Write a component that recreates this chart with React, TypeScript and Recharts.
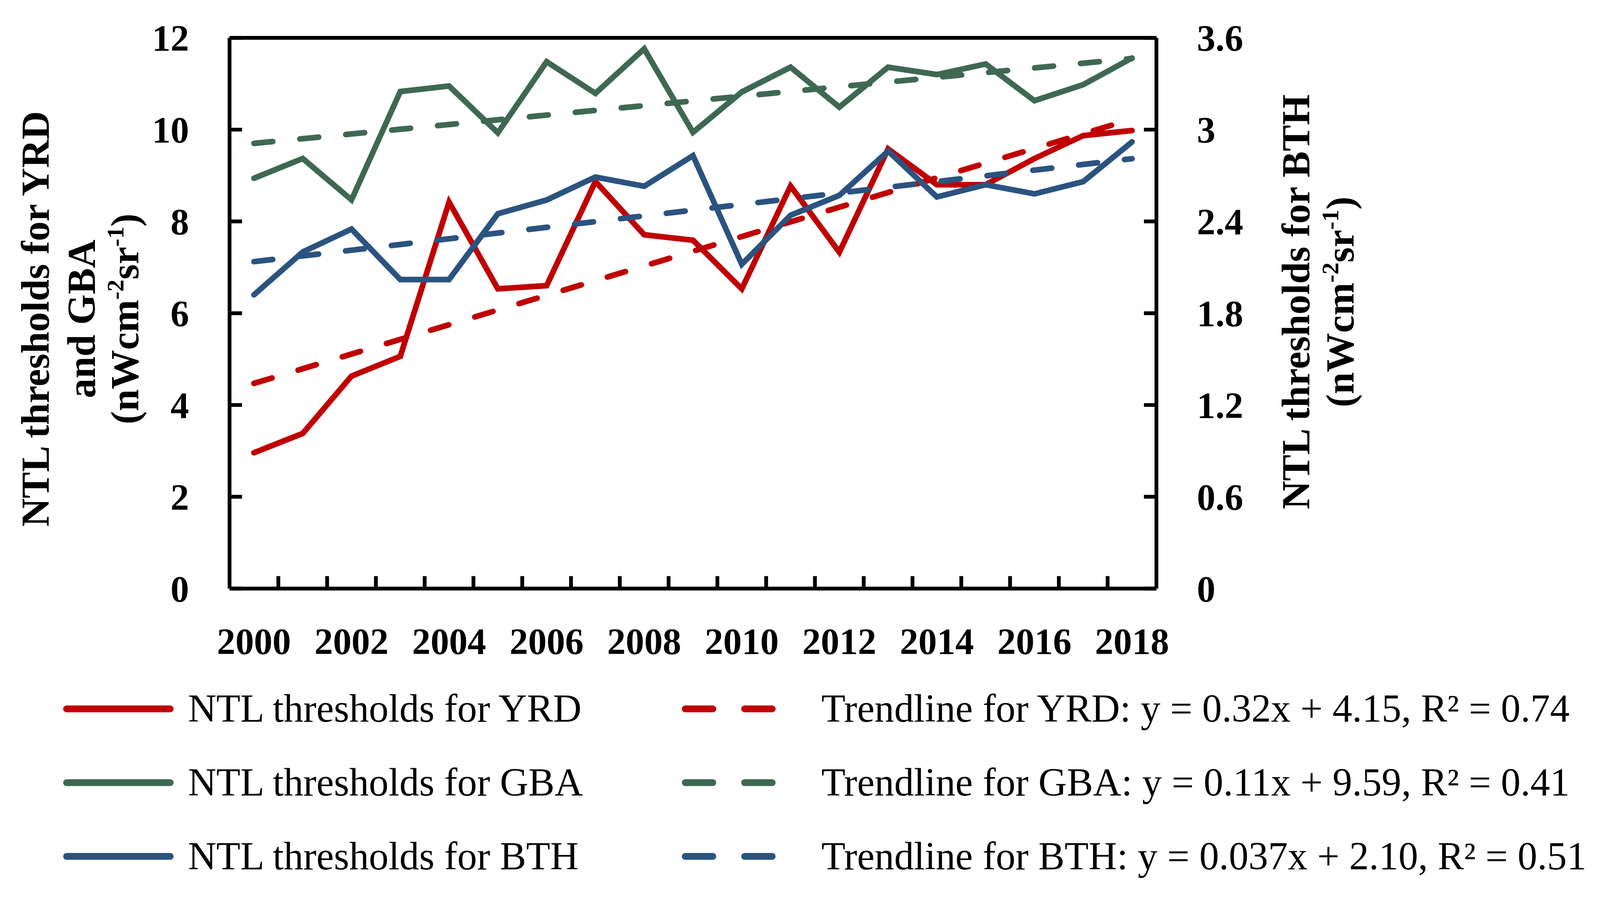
import React from "react";
import { LineChart, Line, XAxis, YAxis, Label } from "recharts";

const years = [
  "2000", "2001", "2002", "2003", "2004", "2005", "2006", "2007", "2008", "2009",
  "2010", "2011", "2012", "2013", "2014", "2015", "2016", "2017", "2018",
];

// NTL thresholds
const yrd = [2.96, 3.38, 4.63, 5.06, 8.42, 6.53, 6.6, 8.87, 7.71, 7.59, 6.53, 8.77, 7.33, 9.58, 8.8, 8.8, 9.37, 9.87, 9.98];
const gba = [8.94, 9.37, 8.47, 10.83, 10.95, 9.93, 11.48, 10.79, 11.76, 9.94, 10.82, 11.36, 10.49, 11.36, 11.2, 11.43, 10.63, 10.98, 11.56];
const bth = [1.92, 2.2, 2.35, 2.02, 2.02, 2.45, 2.54, 2.69, 2.63, 2.83, 2.12, 2.44, 2.57, 2.86, 2.56, 2.64, 2.58, 2.66, 2.92];

// trendline end points (first and last year)
const yrdTrend = [4.47, 10.23];
const gbaTrend = [9.7, 11.55];
const bthTrend = [2.137, 2.81];

const leftTicks = [0, 2, 4, 6, 8, 10, 12];
const rightTicks = [0, 0.6, 1.2, 1.8, 2.4, 3, 3.6];
const yearLabelIdx = [0, 2, 4, 6, 8, 10, 12, 14, 16, 18];

const RED = "#C00000";
const GREEN = "#3F6853";
const BLUE = "#2B5380";
const FONT = "'Liberation Serif', 'Times New Roman', serif";

const W = 4231;
const H = 2352;

const last = years.length - 1;
const data = years.map((year, i) => ({
  idx: i,
  year,
  yrd: yrd[i],
  gba: gba[i],
  bth: bth[i],
  yrdT: i === 0 ? yrdTrend[0] : i === last ? yrdTrend[1] : null,
  gbaT: i === 0 ? gbaTrend[0] : i === last ? gbaTrend[1] : null,
  bthT: i === 0 ? bthTrend[0] : i === last ? bthTrend[1] : null,
}));

// tick marks sit between the years, labels on every second year
const boundaryTicks = years.slice(1).map((_, i) => i + 0.5);
const xTicks = [...yearLabelIdx, ...boundaryTicks].sort((a, b) => a - b);

const legendRows = [
  { name: "NTL thresholds for YRD", trend: "Trendline for YRD: y = 0.32x + 4.15, R\u00b2 = 0.74", color: RED },
  { name: "NTL thresholds for GBA", trend: "Trendline for GBA: y = 0.11x + 9.59, R\u00b2 = 0.41", color: GREEN },
  { name: "NTL thresholds for BTH", trend: "Trendline for BTH: y = 0.037x + 2.10, R\u00b2 = 0.51", color: BLUE },
];

const TITLE_SIZE = 104;

function Unit() {
  const sup = Math.round(TITLE_SIZE * 0.62);
  const shift = Math.round(TITLE_SIZE * 0.38);
  return (
    <>
      (nWcm
      <tspan dy={-shift} fontSize={sup}>-2</tspan>
      <tspan dy={shift}>sr</tspan>
      <tspan dy={-shift} fontSize={sup}>-1</tspan>
      <tspan dy={shift}>)</tspan>
    </>
  );
}

function RotatedLines({ lines }: { lines: { x: number; y: number; content: React.ReactNode }[] }) {
  return (
    <g>
      {lines.map((l, i) => (
        <text
          key={i}
          x={l.x}
          y={l.y}
          transform={`rotate(-90 ${l.x} ${l.y})`}
          textAnchor="middle"
          fontFamily={FONT}
          fontWeight="bold"
          fontSize={TITLE_SIZE}
          fill="#000"
        >
          {l.content}
        </text>
      ))}
    </g>
  );
}

const leftTitle = () => (
  <RotatedLines
    lines={[
      { x: 129, y: 843, content: "NTL thresholds for YRD" },
      { x: 251, y: 843, content: "and GBA" },
      { x: 366, y: 843, content: <Unit /> },
    ]}
  />
);

const rightTitle = () => (
  <RotatedLines
    lines={[
      { x: 3463, y: 798, content: "NTL thresholds for BTH" },
      { x: 3579, y: 798, content: <Unit /> },
    ]}
  />
);

const tickStyle = { fill: "#000", fontSize: 98, fontWeight: "bold", fontFamily: FONT };
const axisStroke = { stroke: "#000", strokeWidth: 10 };

function YearTick(props: any) {
  const { x, y, payload } = props;
  const v = payload.value;
  if (Number.isInteger(v)) {
    return (
      <text x={x} y={y + 104} dy="0.71em" textAnchor="middle" {...tickStyle}>
        {years[v]}
      </text>
    );
  }
  return <line x1={x} x2={x} y1={y} y2={y - 33} stroke="#000" strokeWidth={10} />;
}

function ChartLegend() {
  const rowY = [1874, 2069, 2264];
  return (
    <svg width={W} height={H} style={{ position: "absolute", left: 0, top: 0, pointerEvents: "none" }}>
      {legendRows.map((r, i) => (
        <g key={r.name}>
          <line x1={176} x2={450} y1={rowY[i]} y2={rowY[i]} stroke={r.color} strokeWidth={18} strokeLinecap="round" />
          <text x={497} y={rowY[i] + 34} fontFamily={FONT} fontSize={104} fill="#000">
            {r.name}
          </text>
          <line
            x1={1812}
            x2={2042}
            y1={rowY[i]}
            y2={rowY[i]}
            stroke={r.color}
            strokeWidth={18}
            strokeLinecap="round"
            strokeDasharray="73 84"
          />
          <text x={2172} y={rowY[i] + 34} fontFamily={FONT} fontSize={104} fill="#000">
            {r.trend}
          </text>
        </g>
      ))}
    </svg>
  );
}

// fit the fixed-size drawing into whatever CSS viewport the page really has
function viewportScale() {
  if (typeof window === "undefined") return 1;
  const s = Math.min(window.innerWidth / W, window.innerHeight / H);
  return s > 0 && s < 1 ? s : 1;
}

export default function App() {
  const s = viewportScale();
  return (
    <div style={{ position: "absolute", left: 0, top: 0, width: W * s, height: H * s, overflow: "hidden", background: "#fff" }}>
      <div style={{ position: "relative", width: W, height: H, transform: `scale(${s})`, transformOrigin: "0 0" }}>
        <LineChart width={W} height={H} data={data} margin={{ top: 99, right: 0, bottom: 795, left: 0 }}>
          <XAxis
            xAxisId="yr"
            type="number"
            dataKey="idx"
            domain={[-0.5, 18.5]}
            allowDataOverflow
            ticks={xTicks}
            interval={0}
            height={1}
            axisLine={axisStroke}
            tickLine={false}
            tickSize={0}
            tickMargin={0}
            tick={<YearTick />}
          />
          <XAxis
            xAxisId="top"
            orientation="top"
            type="number"
            dataKey="idx"
            domain={[-0.5, 18.5]}
            allowDataOverflow
            height={1}
            axisLine={axisStroke}
            tickLine={false}
            tick={false}
          />
          <YAxis
            yAxisId="l"
            domain={[0, 12]}
            ticks={leftTicks}
            interval={0}
            width={607}
            axisLine={axisStroke}
            tickLine={axisStroke}
            tickSize={-33}
            tickMargin={140}
            tick={tickStyle}
          >
            <Label content={leftTitle} />
          </YAxis>
          <YAxis
            yAxisId="r"
            orientation="right"
            domain={[0, 3.6]}
            allowDataOverflow
            ticks={rightTicks}
            interval={0}
            width={1173}
            axisLine={axisStroke}
            tickLine={axisStroke}
            tickSize={-33}
            tickMargin={140}
            tick={tickStyle}
          >
            <Label content={rightTitle} />
          </YAxis>

          <Line xAxisId="yr" yAxisId="l" dataKey="yrd" stroke={RED} strokeWidth={15} strokeLinecap="round" dot={false} activeDot={false} isAnimationActive={false} />
          <Line xAxisId="yr" yAxisId="l" dataKey="yrdT" connectNulls stroke={RED} strokeWidth={15} strokeLinecap="round" strokeDasharray="50 72" dot={false} activeDot={false} isAnimationActive={false} />
          <Line xAxisId="yr" yAxisId="l" dataKey="gba" stroke={GREEN} strokeWidth={15} strokeLinecap="round" dot={false} activeDot={false} isAnimationActive={false} />
          <Line xAxisId="yr" yAxisId="l" dataKey="gbaT" connectNulls stroke={GREEN} strokeWidth={15} strokeLinecap="round" strokeDasharray="50 72" dot={false} activeDot={false} isAnimationActive={false} />
          <Line xAxisId="yr" yAxisId="r" dataKey="bth" stroke={BLUE} strokeWidth={15} strokeLinecap="round" dot={false} activeDot={false} isAnimationActive={false} />
          <Line xAxisId="yr" yAxisId="r" dataKey="bthT" connectNulls stroke={BLUE} strokeWidth={15} strokeLinecap="round" strokeDasharray="50 72" dot={false} activeDot={false} isAnimationActive={false} />
        </LineChart>
        <ChartLegend />
      </div>
    </div>
  );
}
